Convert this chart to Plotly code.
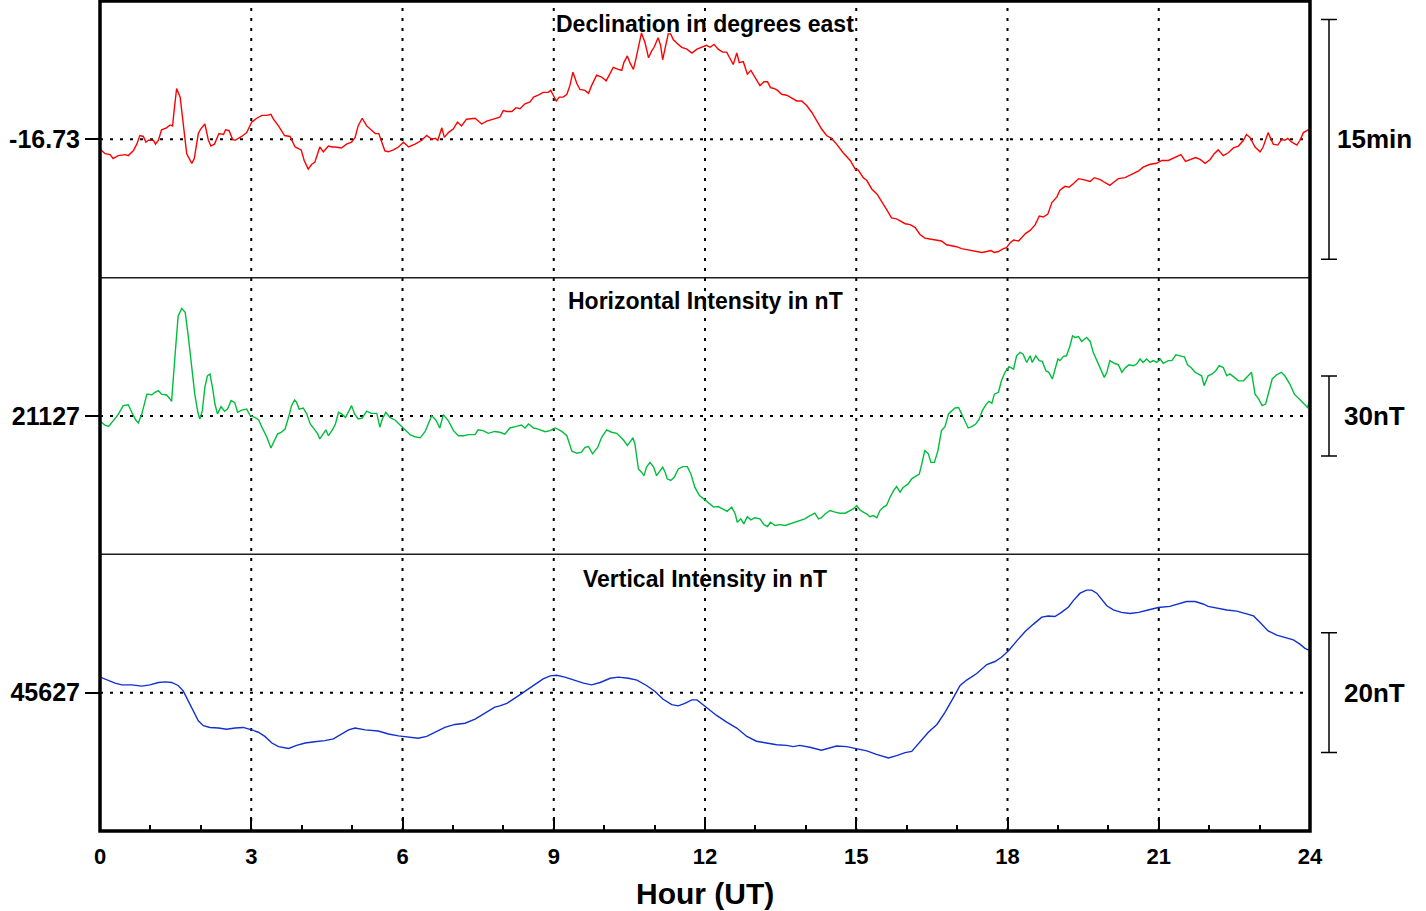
import plotly.graph_objects as go

# ---------------- data ----------------
D_REF = -16.73
H_REF = 21127
Z_REF = 45627

d_hours = [0.00, 0.10, 0.20, 0.26, 0.36, 0.50, 0.56, 0.66, 0.73, 0.79, 0.86, 0.91, 0.96, 1.06, 1.10, 1.16,
           1.22, 1.32, 1.39, 1.44, 1.47, 1.52, 1.59, 1.63, 1.67, 1.72, 1.82, 1.87, 1.95, 2.00, 2.08, 2.15,
           2.20, 2.27, 2.36, 2.45, 2.49, 2.56, 2.63, 2.68, 2.81, 2.91, 3.01, 3.11, 3.21, 3.31, 3.39, 3.44,
           3.54, 3.66, 3.77, 3.87, 3.99, 4.05, 4.13, 4.20, 4.26, 4.36, 4.43, 4.53, 4.60, 4.66, 4.79, 4.89,
           4.99, 5.06, 5.12, 5.20, 5.29, 5.39, 5.46, 5.53, 5.65, 5.72, 5.82, 5.92, 6.02, 6.12, 6.25, 6.38,
           6.48, 6.58, 6.65, 6.70, 6.78, 6.83, 6.91, 7.01, 7.09, 7.17, 7.27, 7.44, 7.57, 7.67, 7.80,
           7.93, 8.00, 8.07, 8.17, 8.25, 8.33, 8.43, 8.53, 8.60, 8.69, 8.79, 8.89, 8.94, 8.99, 9.05, 9.11,
           9.19, 9.26, 9.32, 9.38, 9.46, 9.52, 9.62, 9.69, 9.75, 9.85, 9.95, 10.04, 10.12, 10.18, 10.28,
           10.35, 10.39, 10.46, 10.51, 10.58, 10.63, 10.68, 10.74, 10.81, 10.88, 10.94, 10.99, 11.07,
           11.12, 11.16, 11.21, 11.27, 11.32, 11.37, 11.47, 11.54, 11.64, 11.74, 11.84, 11.93, 12.03,
           12.10, 12.18, 12.26, 12.35, 12.43, 12.50, 12.56, 12.63, 12.68, 12.76, 12.84, 12.91, 12.99,
           13.09, 13.17, 13.24, 13.30, 13.37, 13.44, 13.52, 13.62, 13.72, 13.82, 13.92, 14.02, 14.12,
           14.22, 14.31, 14.41, 14.51, 14.61, 14.74, 14.88, 14.98, 15.04, 15.14, 15.21, 15.31, 15.41,
           15.50, 15.60, 15.70, 15.80, 15.87, 15.97, 16.07,
           16.17, 16.26, 16.36, 16.46, 16.56, 16.69, 16.79, 16.89, 16.99, 17.09, 17.19, 17.29, 17.39,
           17.49, 17.59, 17.67, 17.74, 17.82, 17.92, 17.98, 18.05, 18.12, 18.22, 18.28, 18.36, 18.45,
           18.55, 18.63, 18.71, 18.80, 18.88, 18.98, 19.04, 19.14, 19.22, 19.31, 19.41, 19.50, 19.64,
           19.72, 19.84, 19.93, 20.03, 20.10, 20.20, 20.33, 20.46, 20.60, 20.69, 20.83, 20.96, 21.06,
           21.19, 21.32, 21.44, 21.53, 21.62, 21.73, 21.82, 21.92, 22.02, 22.10, 22.18, 22.28, 22.38,
           22.48, 22.58, 22.68, 22.74, 22.81, 22.91, 23.01, 23.07, 23.17, 23.27, 23.36, 23.44, 23.50,
           23.56, 23.64, 23.74, 23.80, 23.87, 23.97, 24.00]

d_values = [-16.740, -16.745, -16.746, -16.750, -16.747, -16.746, -16.747, -16.742, -16.735, -16.726,
            -16.727, -16.733, -16.731, -16.731, -16.735, -16.731, -16.720, -16.718, -16.715, -16.716,
            -16.700, -16.677, -16.686, -16.704, -16.724, -16.745, -16.755, -16.750, -16.724, -16.719,
            -16.714, -16.731, -16.737, -16.735, -16.724, -16.725, -16.720, -16.721, -16.730, -16.731,
            -16.727, -16.723, -16.712, -16.708, -16.705, -16.705, -16.704, -16.709, -16.716, -16.726,
            -16.727, -16.738, -16.741, -16.752, -16.761, -16.756, -16.754, -16.738, -16.743, -16.737,
            -16.738, -16.738, -16.739, -16.735, -16.733, -16.728, -16.716, -16.708, -16.716, -16.721,
            -16.724, -16.724, -16.742, -16.743, -16.741, -16.738, -16.733, -16.738, -16.735, -16.731,
            -16.726, -16.730, -16.729, -16.731, -16.718, -16.728, -16.723, -16.719, -16.712, -16.716,
            -16.709, -16.708, -16.714, -16.711, -16.709,
            -16.707, -16.700, -16.701, -16.701, -16.697, -16.698, -16.693, -16.691, -16.686, -16.684,
            -16.681, -16.681, -16.679, -16.684, -16.690, -16.686, -16.686, -16.683, -16.674, -16.660,
            -16.672, -16.678, -16.679, -16.682, -16.674, -16.663, -16.665, -16.669, -16.660, -16.655,
            -16.657, -16.658, -16.650, -16.643, -16.650, -16.657, -16.646, -16.632, -16.619, -16.629,
            -16.645, -16.638, -16.634, -16.624, -16.632, -16.647, -16.634, -16.620, -16.620, -16.626,
            -16.631, -16.634, -16.636, -16.640, -16.636, -16.634, -16.632, -16.634, -16.631, -16.636,
            -16.639, -16.639, -16.646, -16.652, -16.640, -16.650, -16.649, -16.662, -16.658, -16.665,
            -16.674, -16.670, -16.670, -16.676, -16.677, -16.679, -16.683, -16.684, -16.687, -16.690,
            -16.690, -16.695, -16.702, -16.711, -16.719, -16.726, -16.729, -16.735, -16.744, -16.752,
            -16.761, -16.762, -16.770, -16.773, -16.782, -16.787, -16.794, -16.803, -16.812, -16.813,
            -16.815, -16.818, -16.819,
            -16.822, -16.829, -16.833, -16.834, -16.835, -16.836, -16.840, -16.841, -16.842, -16.844,
            -16.845, -16.846, -16.847, -16.848, -16.847, -16.846, -16.848, -16.847, -16.844, -16.843,
            -16.838, -16.835, -16.836, -16.833, -16.828, -16.825, -16.819, -16.810, -16.811, -16.808,
            -16.796, -16.790, -16.783, -16.779, -16.780, -16.776, -16.771, -16.772, -16.774, -16.770,
            -16.772, -16.775, -16.778, -16.775, -16.771, -16.770, -16.767, -16.763, -16.759, -16.756,
            -16.755, -16.752, -16.752, -16.749, -16.746, -16.753, -16.751, -16.749, -16.751, -16.755,
            -16.751, -16.745, -16.741, -16.747, -16.744, -16.739, -16.737, -16.731, -16.725, -16.728,
            -16.738, -16.743, -16.738, -16.723, -16.735, -16.736, -16.730, -16.731, -16.729, -16.733,
            -16.736, -16.731, -16.723, -16.720, -16.724]

h_hours = [0.00, 0.10, 0.17, 0.26, 0.36, 0.46, 0.56, 0.63, 0.71, 0.76, 0.83, 0.93, 1.03, 1.09, 1.16, 1.22,
           1.32, 1.39, 1.42, 1.49, 1.55, 1.62, 1.69, 1.75, 1.82, 1.88, 1.94, 1.98, 2.03, 2.08, 2.13, 2.18,
           2.23, 2.28, 2.33, 2.40, 2.47, 2.53, 2.60, 2.67, 2.73, 2.81, 2.91, 2.98, 3.07, 3.15, 3.21, 3.31,
           3.39, 3.46, 3.52, 3.60, 3.67, 3.74, 3.80, 3.86, 3.90, 3.95, 4.03, 4.10, 4.17, 4.25, 4.32, 4.36,
           4.43, 4.48, 4.53, 4.61, 4.67, 4.73, 4.79, 4.87, 4.94, 4.99, 5.05, 5.12, 5.20, 5.29, 5.38, 5.49,
           5.55, 5.60, 5.67, 5.75, 5.85, 5.95, 6.05, 6.15, 6.25, 6.35, 6.45, 6.51, 6.58, 6.66, 6.74, 6.81,
           6.91, 7.01, 7.11, 7.21, 7.31, 7.44, 7.50, 7.60, 7.70, 7.83, 7.93,
           8.03, 8.13, 8.26, 8.36, 8.43, 8.50, 8.60, 8.69, 8.83, 8.93, 9.03, 9.16, 9.26, 9.36, 9.46, 9.55,
           9.62, 9.69, 9.77, 9.87, 9.95, 10.05, 10.15, 10.25, 10.33, 10.39, 10.46, 10.51, 10.57, 10.61,
           10.68, 10.74, 10.79, 10.84, 10.91, 10.98, 11.04, 11.11, 11.16, 11.21, 11.25, 11.32, 11.39,
           11.47, 11.56, 11.65, 11.72, 11.80, 11.89, 12.00, 12.09, 12.17, 12.26, 12.35, 12.44, 12.53,
           12.60, 12.64, 12.71, 12.77, 12.84, 12.91, 12.99, 13.09, 13.17, 13.24, 13.30, 13.39, 13.49,
           13.59, 13.69, 13.79, 13.88, 13.98, 14.05, 14.12, 14.18, 14.25, 14.31, 14.38, 14.48, 14.58,
           14.68, 14.78, 14.88, 14.94, 15.01, 15.07, 15.14, 15.21, 15.27, 15.34, 15.41, 15.47, 15.54,
           15.60, 15.67, 15.74, 15.80, 15.87, 15.93,
           16.03, 16.10, 16.17, 16.25, 16.30, 16.36, 16.43, 16.48, 16.55, 16.62, 16.69, 16.76, 16.83,
           16.89, 16.96, 17.03, 17.09, 17.16, 17.22, 17.29, 17.37, 17.44, 17.50, 17.57, 17.63, 17.69,
           17.74, 17.82, 17.88, 17.95, 18.03, 18.12, 18.18, 18.25, 18.31, 18.38, 18.45, 18.49, 18.56,
           18.63, 18.69, 18.76, 18.82, 18.89, 18.94, 19.00, 19.04, 19.11, 19.17, 19.24, 19.29, 19.34,
           19.41, 19.47, 19.57, 19.64, 19.70, 19.79, 19.87, 19.92, 19.97, 20.03, 20.12, 20.20, 20.27,
           20.33, 20.41, 20.50, 20.56, 20.63, 20.69, 20.76, 20.83, 20.89, 20.96, 21.03, 21.09, 21.19,
           21.26, 21.34, 21.42, 21.51, 21.57, 21.64, 21.72, 21.79, 21.85, 21.90, 21.98, 22.06, 22.13,
           22.20, 22.28, 22.35, 22.41, 22.50, 22.58, 22.68, 22.74, 22.84, 22.91, 22.98, 23.05, 23.12,
           23.19, 23.25, 23.34, 23.43, 23.50, 23.60, 23.69, 23.77, 23.87, 23.95, 24.00]

h_values = [21125.0, 21123.6, 21123.1, 21125.2, 21127.5, 21130.9, 21131.2, 21128.4, 21125.5, 21124.4,
            21127.8, 21135.2, 21135.0, 21135.9, 21136.5, 21135.2, 21134.9, 21133.4, 21132.5, 21150.2,
            21164.6, 21167.4, 21165.9, 21157.1, 21146.5, 21135.2, 21128.4, 21125.9, 21129.0, 21137.8,
            21142.1, 21142.8, 21137.8, 21131.5, 21127.8, 21130.5, 21128.8, 21129.6, 21132.8, 21132.1,
            21128.4, 21129.2, 21129.6, 21127.1, 21126.5, 21125.5, 21122.8, 21119.0, 21115.0, 21117.8,
            21120.2, 21120.9, 21122.1, 21126.5, 21130.9, 21133.0, 21132.1, 21129.6, 21130.0, 21127.8,
            21124.0, 21122.1, 21120.2, 21118.4, 21120.2, 21121.8, 21119.6, 21121.8, 21124.0, 21128.4,
            21127.8, 21126.5, 21129.0, 21130.9, 21127.8, 21125.9, 21126.2, 21128.8, 21128.0, 21128.0,
            21122.8, 21125.9, 21128.4, 21126.5, 21125.5, 21123.8, 21121.8, 21120.0, 21119.2, 21118.8,
            21121.2, 21124.0, 21127.1, 21125.5, 21122.5, 21127.5, 21125.2, 21121.5, 21119.6, 21119.6,
            21120.0, 21120.0, 21121.8, 21121.5, 21120.5, 21121.2, 21120.9,
            21120.2, 21122.5, 21123.1, 21123.6, 21122.5, 21124.0, 21122.5, 21122.1, 21121.1, 21121.5,
            21122.5, 21121.2, 21119.6, 21113.8, 21113.0, 21113.4, 21115.2, 21115.5, 21112.8, 21115.2,
            21119.0, 21121.8, 21120.9, 21120.5, 21119.0, 21117.8, 21115.9, 21117.1, 21118.8, 21116.5,
            21107.1, 21105.9, 21104.6, 21107.8, 21109.6, 21107.8, 21104.6, 21106.5, 21107.8, 21105.9,
            21103.4, 21102.8, 21104.0, 21107.1, 21108.0, 21108.0, 21105.2, 21100.2, 21097.1, 21095.5,
            21094.0, 21092.8, 21093.0, 21092.1, 21091.2, 21092.8, 21090.2, 21087.1, 21088.4, 21086.5,
            21089.2, 21088.0, 21088.8, 21088.4, 21086.2, 21085.5, 21087.1, 21085.9, 21086.2, 21085.9,
            21086.5, 21087.1, 21087.8, 21088.4, 21089.2, 21090.0, 21090.5, 21088.4, 21088.8, 21090.2,
            21091.5, 21090.9, 21090.5, 21090.5, 21091.5, 21092.1, 21093.4, 21091.8, 21090.9, 21090.2,
            21089.2, 21089.6, 21088.8, 21091.5, 21092.8, 21093.4, 21096.5, 21099.0, 21100.5, 21098.4,
            21100.2,
            21101.5, 21103.4, 21104.2, 21105.2, 21109.0, 21114.0, 21112.8, 21109.6, 21109.6, 21114.0,
            21121.5, 21123.0, 21127.8, 21129.0, 21130.0, 21130.2, 21127.8, 21125.2, 21122.5, 21123.0,
            21124.0, 21125.9, 21129.0, 21131.2, 21132.5, 21131.8, 21135.2, 21135.9, 21140.2, 21143.4,
            21145.5, 21144.6, 21149.6, 21150.9, 21150.2, 21147.1, 21149.6, 21147.1, 21149.6, 21147.8,
            21147.5, 21144.0, 21143.4, 21140.9, 21144.0, 21148.4, 21147.8, 21149.4, 21149.6, 21153.4,
            21157.1, 21156.5, 21156.8, 21155.0, 21156.5, 21155.0, 21150.9, 21147.1, 21143.4, 21141.5,
            21143.4, 21147.8, 21146.8, 21146.2, 21143.4, 21145.0, 21146.2, 21145.9, 21146.5, 21148.4,
            21147.1, 21148.4, 21147.1, 21147.8, 21147.1, 21148.4, 21146.8, 21147.8, 21147.8, 21150.0,
            21149.6, 21149.2, 21146.2, 21145.2, 21143.4, 21142.8, 21142.1, 21138.4, 21142.1, 21142.8,
            21144.0, 21145.9, 21145.2, 21142.1, 21142.8, 21141.5, 21140.2, 21140.2, 21141.5, 21143.4,
            21135.2, 21133.4, 21130.9, 21131.5, 21136.5, 21140.9, 21142.5, 21143.4, 21142.1, 21139.0,
            21135.2, 21133.8, 21131.8, 21130.2, 21133.0]

z_hours = [0.00, 0.17, 0.30, 0.43, 0.63, 0.83, 0.99, 1.16, 1.29, 1.42, 1.55, 1.65, 1.75, 1.85, 1.95, 2.05,
           2.18, 2.35, 2.51, 2.68, 2.84, 3.01, 3.14, 3.27, 3.41, 3.54, 3.74, 3.90, 4.07, 4.26, 4.46, 4.63,
           4.79, 4.93, 5.06, 5.26, 5.52, 5.72, 5.92, 6.12, 6.31, 6.48, 6.65, 6.84, 7.04, 7.24, 7.44, 7.64,
           7.83, 7.93, 8.07, 8.23, 8.40, 8.60, 8.79, 8.93, 9.06, 9.22, 9.39, 9.59, 9.75, 9.92, 10.12,
           10.28, 10.48, 10.65, 10.84, 11.01, 11.17, 11.34, 11.47, 11.60, 11.74, 11.84, 11.93, 12.07,
           12.23, 12.43, 12.63, 12.83, 13.02, 13.22, 13.42, 13.62, 13.75, 13.88, 14.08, 14.31, 14.48,
           14.61, 14.81, 15.01, 15.21, 15.40, 15.64, 15.80, 15.97, 16.10, 16.26, 16.43, 16.60, 16.76,
           16.93, 17.06, 17.19, 17.39, 17.59, 17.75, 17.88, 18.02, 18.18, 18.35, 18.51, 18.68, 18.81,
           18.94, 19.07, 19.21, 19.31, 19.44, 19.57, 19.67, 19.77, 19.87, 19.97, 20.10, 20.26, 20.43,
           20.60, 20.79, 20.99, 21.22, 21.39, 21.55, 21.72, 21.88, 21.98, 22.15, 22.35, 22.55, 22.71,
           22.88, 23.01, 23.17, 23.34, 23.50, 23.67, 23.80, 23.90, 24.00]

z_values = [45629.6, 45629.0, 45628.6, 45628.3, 45628.3, 45628.1, 45628.3, 45628.7, 45628.8, 45628.7,
            45628.2, 45627.3, 45625.7, 45624.0, 45622.3, 45621.5, 45621.2, 45621.1, 45620.9, 45621.1,
            45621.2, 45620.8, 45620.4, 45619.7, 45618.6, 45618.0, 45617.7, 45618.2, 45618.6, 45618.8,
            45619.0, 45619.3, 45620.1, 45620.8, 45621.1, 45620.8, 45620.6, 45620.1, 45619.8, 45619.6,
            45619.4, 45619.7, 45620.4, 45621.2, 45621.7, 45621.9, 45622.6, 45623.6, 45624.6, 45624.8,
            45625.2, 45626.1, 45627.1, 45628.2, 45629.3, 45629.8, 45629.9, 45629.6, 45629.1, 45628.6,
            45628.3, 45628.7, 45629.4, 45629.6, 45629.4, 45629.1, 45628.2, 45627.2, 45625.9, 45625.0,
            45624.8, 45625.2, 45625.8, 45625.8, 45625.2, 45624.3, 45623.2, 45622.1, 45621.1, 45619.7,
            45618.9, 45618.6, 45618.3, 45618.2, 45618.0, 45618.2, 45617.9, 45617.4, 45617.8, 45618.1,
            45618.0, 45617.7, 45617.3, 45616.7, 45616.1, 45616.5, 45617.0, 45617.2, 45618.7, 45620.4,
            45621.7, 45623.7, 45626.2, 45628.2, 45629.1, 45630.2, 45631.7, 45632.2, 45632.9, 45634.0,
            45635.6, 45637.2, 45638.4, 45639.6, 45639.8, 45639.7, 45640.4, 45641.3, 45642.4, 45643.6,
            45644.1, 45644.1, 45643.6, 45642.6, 45641.5, 45640.8, 45640.4, 45640.2, 45640.4, 45640.8,
            45641.2, 45641.4, 45641.8, 45642.2, 45642.2, 45641.8, 45641.4, 45641.1, 45640.8, 45640.6,
            45640.2, 45639.8, 45638.7, 45637.3, 45636.6, 45636.2, 45635.8, 45635.1, 45634.4, 45634.0]

panel_titles = ["Declination in degrees east", "Horizontal Intensity in nT", "Vertical Intensity in nT"]
ref_labels = ["-16.73", "21127", "45627"]
scale_labels = ["15min", "30nT", "20nT"]
scale_sizes = [0.25, 30, 20]          # 15 arc-minutes = 0.25 deg, 30 nT, 20 nT
x_tick_values = [0, 3, 6, 9, 12, 15, 18, 21, 24]
x_title = "Hour (UT)"

# ---------------- figure ----------------
FONT = "Liberation Sans, Arial, Helvetica, sans-serif"
refs = [D_REF, H_REF, Z_REF]
half_spans = [0.14427, 51.94, 23.08]      # half of each panel's vertical span
yrefs = ["y", "y2", "y3"]
colors = ["rgb(255,0,0)", "rgb(0,190,60)", "rgb(16,48,208)"]

fig = go.Figure()
for xs, ys, yr, col in [(d_hours, d_values, "y", colors[0]),
                        (h_hours, h_values, "y2", colors[1]),
                        (z_hours, z_values, "y3", colors[2])]:
    fig.add_trace(go.Scatter(x=xs, y=ys, xaxis="x", yaxis=yr, mode="lines",
                             line=dict(color=col, width=1.4), hoverinfo="skip"))

domains = [[2 / 3, 1.0], [1 / 3, 2 / 3], [0.0, 1 / 3]]
for i, name in enumerate(["yaxis", "yaxis2", "yaxis3"]):
    fig.layout[name] = dict(
        domain=domains[i], anchor="x",
        range=[refs[i] - half_spans[i], refs[i] + half_spans[i]],
        tickmode="array", tickvals=[refs[i]], ticktext=[ref_labels[i]],
        ticks="outside", ticklen=14, tickwidth=1.5, tickcolor="black",
        tickfont=dict(family=FONT, size=25, color="black", weight="bold"),
        showgrid=False, zeroline=False, showline=False, fixedrange=True,
    )

fig.update_layout(
    xaxis=dict(
        domain=[0, 1], anchor="y3", range=[0, 24],
        tickmode="linear", tick0=0, dtick=3,
        ticks="inside", ticklen=14, tickwidth=1.5, tickcolor="black",
        minor=dict(tick0=0, dtick=1, ticks="inside", ticklen=6, tickwidth=1.5,
                   tickcolor="black", showgrid=False),
        tickfont=dict(family=FONT, size=22, color="black", weight="bold"),
        ticklabelstandoff=10,
        showgrid=False, zeroline=False, showline=False, fixedrange=True,
    ),
    width=1426, height=911,
    margin=dict(l=100, r=116, t=1, b=80),
    plot_bgcolor="white", paper_bgcolor="white",
    showlegend=False,
    font=dict(family=FONT, color="black"),
)

shapes = []
DOT = "3px,7px"
# vertical dotted hour grid lines
for h in x_tick_values[1:-1]:
    shapes.append(dict(type="line", xref="x", yref="paper", x0=h, x1=h, y0=0, y1=1,
                       line=dict(color="black", width=2, dash=DOT), layer="below"))
# horizontal dotted reference lines
for yr, r in zip(yrefs, refs):
    shapes.append(dict(type="line", xref="paper", yref=yr, x0=0, x1=1, y0=r, y1=r,
                       line=dict(color="black", width=2, dash=DOT), layer="below"))
# panel separators
for yy in [1 / 3, 2 / 3]:
    shapes.append(dict(type="line", xref="paper", yref="paper", x0=0, x1=1, y0=yy, y1=yy,
                       line=dict(color="rgb(30,30,30)", width=1.5), layer="above"))
# outer frame
shapes.append(dict(type="rect", xref="paper", yref="paper", x0=0, x1=1, y0=0, y1=1,
                   line=dict(color="black", width=3.5), fillcolor="rgba(0,0,0,0)", layer="above"))
# scale bars on the right
BAR_X, CAP_L, CAP_R = 1.0157, 1.0091, 1.0223
for yr, r, s in zip(yrefs, refs, scale_sizes):
    lo, hi = r - s / 2, r + s / 2
    shapes.append(dict(type="line", xref="paper", yref=yr, x0=BAR_X, x1=BAR_X, y0=lo, y1=hi,
                       line=dict(color="black", width=1.5)))
    for yy in (lo, hi):
        shapes.append(dict(type="line", xref="paper", yref=yr, x0=CAP_L, x1=CAP_R, y0=yy, y1=yy,
                           line=dict(color="black", width=1.5)))
fig.update_layout(shapes=shapes)

annotations = []
for title, yy in zip(panel_titles, [0.9723, 0.6386, 0.3036]):
    annotations.append(dict(text=title, xref="paper", yref="paper", x=0.5, y=yy,
                            xanchor="center", yanchor="middle", showarrow=False,
                            font=dict(family=FONT, size=23, color="black", weight="bold")))
for lab, yr, r in zip(scale_labels, yrefs, refs):
    annotations.append(dict(text=lab, xref="paper", yref=yr, x=1.0537, y=r,
                            xanchor="center", yanchor="middle", showarrow=False,
                            font=dict(family=FONT, size=26, color="black", weight="bold")))
annotations.append(dict(text=x_title, xref="paper", yref="paper", x=0.5, y=-0.0747,
                        xanchor="center", yanchor="middle", showarrow=False,
                        font=dict(family=FONT, size=30, color="black", weight="bold")))
fig.update_layout(annotations=annotations)

fig.write_html("out.html", config={"displayModeBar": False},
               post_script="document.body.style.margin='0';document.body.style.overflow='hidden';")
